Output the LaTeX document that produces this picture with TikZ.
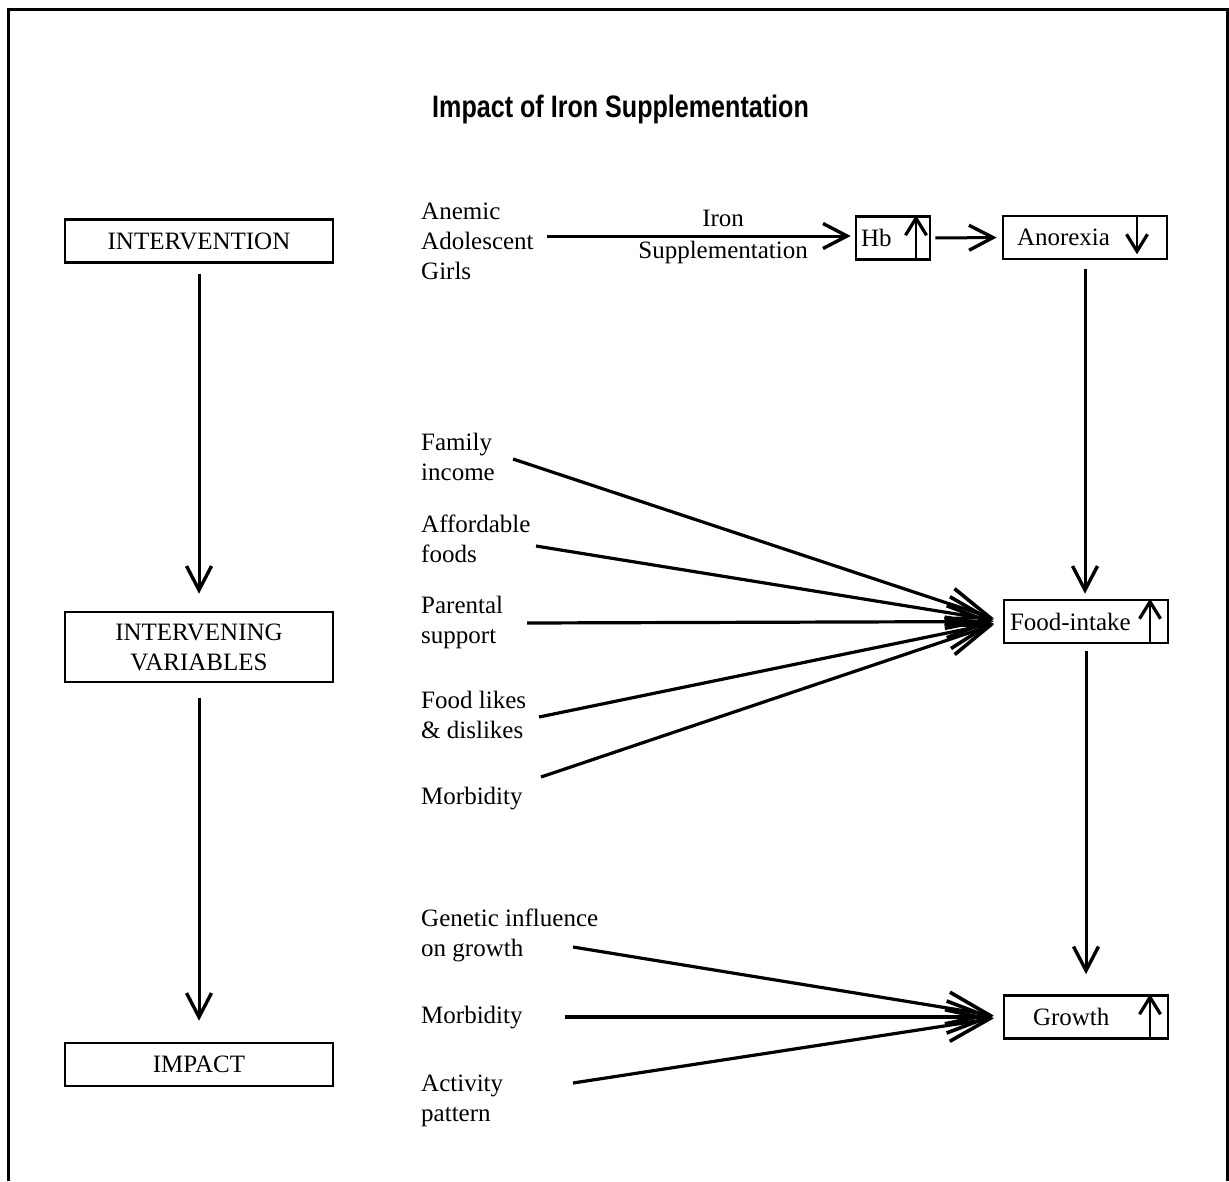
\documentclass[tikz,border=0pt]{standalone}
\usepackage{fontspec}
\usepackage{graphicx}
\setmainfont{Liberation Serif}
\setsansfont{Liberation Sans}
\usetikzlibrary{arrows.meta}
\begin{document}
\begin{tikzpicture}[x=1pt,y=-1pt,
  txt/.style={font=\fontsize{25}{30}\selectfont},
  lbl/.style={txt, anchor=west, align=left, inner sep=0pt},
  box/.style={txt, draw, line width=2.6pt, inner sep=0pt, minimum height=43pt},
  conn/.style={line width=3pt, -{Straight Barb[length=24pt,width=25pt,line width=3.4pt]}},
  fan/.style={line width=3.2pt, -{Straight Barb[length=42pt,width=32pt,line width=3.6pt]}},
  updn/.style={line width=2.8pt, -{Straight Barb[length=17pt,width=21pt,line width=3.2pt]}},
]
\useasboundingbox (0,0) rectangle (1229,1181);

% outer frame, open at the bottom
\draw[line width=3pt] (8,1181) -- (8,9) -- (1227,9) -- (1227,1181);

% title
\node[anchor=base west, inner sep=0pt,
      font=\sffamily\bfseries\fontsize{31}{36}\selectfont] (title) at (432,117)
  {\scalebox{0.81}[1]{Impact of Iron Supplementation}};

% left column: stages
\node[box, minimum width=268pt] (interv) at (199,241) {INTERVENTION};
\node[box, minimum width=268pt, minimum height=70pt, align=center] (invar) at (199,647)
  {INTERVENING\\VARIABLES};
\node[box, minimum width=268pt] (impact) at (199,1064.5) {IMPACT};
\draw[conn, shorten <=10pt, shorten >=17pt] (interv.south) -- (invar.north);
\draw[conn, shorten <=15pt, shorten >=21pt] (invar.south) -- (impact.north);

% top row: intervention chain
\node[lbl] (girls) at (421,241) {Anemic\\Adolescent\\Girls};
\node[box, minimum width=74pt, text width=64pt, align=left] (hb) at (893,238) {Hb};
\node[box, minimum width=164pt, text width=136pt, align=left] (anorexia) at (1085,237.5) {Anorexia};
\draw[updn] ([xshift=23pt]hb.south) -- ([xshift=23pt]hb.north);
\draw[updn] ([xshift=52pt]anorexia.north) -- ([xshift=52pt,yshift=6pt]anorexia.south);
\draw[conn] ([xshift=13pt,yshift=5pt]girls.east) -- ([xshift=-4pt,yshift=2pt]hb.west)
  node[txt, pos=0.58, above=5pt, inner sep=3pt] (ironlbl) {Iron}
  node[txt, pos=0.58, below=1pt, inner sep=3pt] (supplbl) {Supplementation};
\draw[conn, shorten <=4pt, shorten >=5pt] (hb.east) -- (anorexia.west);

% right column: outcomes
\node[box, minimum width=164pt, text width=152pt, align=left] (food) at (1086,621.5) {Food-intake};
\node[box, minimum width=164pt, text width=152pt, align=left] (growth) at (1086,1017) {\hspace*{23pt}Growth};
\draw[updn] ([xshift=64pt]food.south) -- ([xshift=64pt]food.north);
\draw[updn] ([xshift=64pt]growth.south) -- ([xshift=64pt]growth.north);
\draw[conn, shorten <=9pt, shorten >=5pt] (anorexia.south) -- (anorexia.south |- food.north);
\draw[conn, shorten <=7pt, shorten >=20pt] (food.south) -- (food.south |- growth.north);

% intervening variables acting on food intake
\node[lbl] (income) at (421,457) {Family\\income};
\node[lbl] (afford) at (421,539) {Affordable\\foods};
\node[lbl] (parent) at (421,622) {Parental\\support};
\node[lbl] (likes) at (421,715) {Food likes\\\& dislikes};
\node[lbl] (morb1) at (421,799) {Morbidity};
\coordinate (t-income) at (513,459);
\coordinate (t-afford) at (536,546);
\coordinate (t-parent) at (527,623);
\coordinate (t-likes) at (539,717);
\coordinate (t-morb1) at (541,777);
\foreach \t in {income,afford,parent,likes,morb1}
  \draw[fan, shorten >=9pt] (t-\t) -- (food.west);

% factors acting on growth
\node[lbl] (genetic) at (421,935) {Genetic influence\\on growth};
\node[lbl] (morb2) at (421,1018) {Morbidity};
\node[lbl] (activity) at (421,1101) {Activity\\pattern};
\coordinate (t-genetic) at (573,947);
\coordinate (t-morb2) at (565,1017);
\coordinate (t-activity) at (573,1083);
\foreach \t in {genetic,morb2,activity}
  \draw[fan, shorten >=9pt] (t-\t) -- (growth.west);
\end{tikzpicture}
\end{document}
